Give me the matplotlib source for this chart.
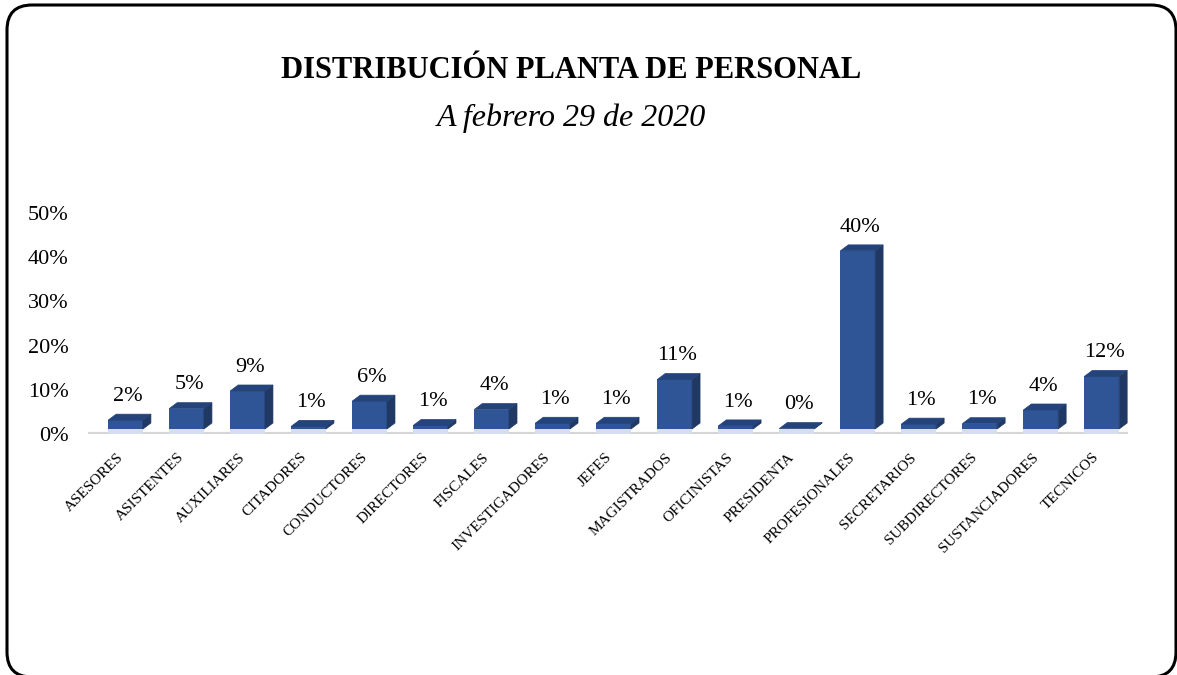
import matplotlib.pyplot as plt
from matplotlib.patches import Polygon, FancyBboxPatch
from matplotlib.transforms import IdentityTransform, ScaledTranslation

categories = ["ASESORES", "ASISTENTES", "AUXILIARES", "CITADORES", "CONDUCTORES",
              "DIRECTORES", "FISCALES", "INVESTIGADORES", "JEFES", "MAGISTRADOS",
              "OFICINISTAS", "PRESIDENTA", "PROFESIONALES", "SECRETARIOS",
              "SUBDIRECTORES", "SUSTANCIADORES", "TECNICOS"]
shares = [0.020, 0.046, 0.086, 0.006, 0.063, 0.008, 0.044, 0.013, 0.013, 0.112,
          0.007, 0.001, 0.403, 0.011, 0.012, 0.043, 0.119]
labels = ["2%", "5%", "9%", "1%", "6%", "1%", "4%", "1%", "1%", "11%",
          "1%", "0%", "40%", "1%", "1%", "4%", "12%"]
yticks = [0, 0.1, 0.2, 0.3, 0.4, 0.5]
ytick_labels = ["0%", "10%", "20%", "30%", "40%", "50%"]

FRONT = "#2F5597"
SIDE = "#1F3864"
TOP = "#24437A"
SERIF = "Liberation Serif"

W, H = 1177, 675
fig = plt.figure(figsize=(W / 100, H / 100), dpi=100)

# axes placed in pixels: floor front edge at y=434, 10% = 44.2 px
left_px, right_px, floor_px = 88, 1128, 434
ax = fig.add_axes([left_px / W, (H - floor_px) / H, (right_px - left_px) / W, 221 / H])
x = list(range(len(categories)))
ax.set_xlim(-0.615, len(categories) - 1 + 0.43)
ax.set_ylim(0, 0.5)

# pixel -> data conversions for the 3D effect
px_x = (ax.get_xlim()[1] - ax.get_xlim()[0]) / (right_px - left_px)
px_y = 0.5 / 221
dx, dy = 8 * px_x, 6 * px_y
lift = 5 * px_y
width = 0.57

# floor
ax.axhline(0, color="#D6D6D6", lw=3, zorder=1)

bars = ax.bar(x, shares, width=width, bottom=lift, color=FRONT, zorder=3)
for b, lab in zip(bars, labels):
    x0, x1 = b.get_x(), b.get_x() + b.get_width()
    top = b.get_y() + b.get_height()
    base = b.get_y()
    # faint reflection on the floor
    ax.add_patch(Polygon([(x0, 0), (x1, 0), (x1, base), (x0, base)],
                         closed=True, color="#D5DDEE", zorder=2, lw=0))
    ax.add_patch(Polygon([(x1, base), (x1, top), (x1 + dx, top + dy), (x1 + dx, base + dy)],
                         closed=True, facecolor=SIDE, edgecolor=SIDE, lw=0.5, zorder=3))
    ax.add_patch(Polygon([(x0, top), (x1, top), (x1 + dx, top + dy), (x0 + dx, top + dy)],
                         closed=True, facecolor=TOP, edgecolor=TOP, lw=0.5, zorder=4))
    ax.annotate(lab, (b.get_x() + b.get_width() / 2 + dx / 3, top + dy),
                xytext=(0, 6), textcoords="offset points", ha="center", va="bottom",
                fontsize=16, family=SERIF, color="black")

ax.set_yticks(yticks)
ax.set_yticklabels(ytick_labels, family=SERIF, fontsize=16)
ax.set_xticks(x)
ax.set_xticklabels(categories, rotation=45, ha="right", va="top", rotation_mode="anchor",
                   family=SERIF, fontsize=11)
ax.tick_params(axis="y", length=0, pad=14)
ax.tick_params(axis="x", length=0, pad=12)
shift = ScaledTranslation(-9 / 100, 0, fig.dpi_scale_trans)
for t in ax.get_xticklabels():
    t.set_transform(t.get_transform() + shift)
for s in ax.spines.values():
    s.set_visible(False)
ax.patch.set_alpha(0)

fig.text(571 / W, 1 - 70 / H, "DISTRIBUCIÓN PLANTA DE PERSONAL", ha="center", va="center",
         family=SERIF, fontweight="bold", fontsize=22)
fig.text(571 / W, 1 - 118 / H, "A febrero 29 de 2020", ha="center", va="center",
         family=SERIF, style="italic", fontsize=23)

# rounded border around the chart area
border = FancyBboxPatch((7, -2), 1169, 672, boxstyle="round,pad=0,rounding_size=25",
                        transform=IdentityTransform(), fill=False, edgecolor="black", lw=2.2)
fig.patches.append(border)

fig.savefig("out.png", dpi=100)
